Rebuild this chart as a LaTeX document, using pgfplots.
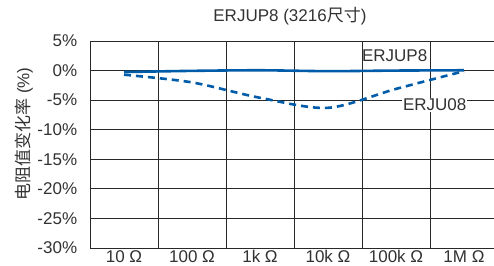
\documentclass[border=0pt]{standalone}
\usepackage{pgfplots}
\pgfplotsset{compat=1.18}
\usepackage{fontspec}
\setmainfont{Liberation Sans}
\newfontfamily\cjk{Noto Sans CJK SC}
\definecolor{pblue}{RGB}{0,92,169}
\definecolor{gridc}{RGB}{40,40,40}
\definecolor{txt}{RGB}{50,50,50}
\begin{document}
\fontsize{17bp}{20bp}\selectfont
\begin{tikzpicture}
\useasboundingbox (-90bp,-18bp) rectangle (404bp,248bp);
\begin{axis}[
  at={(0,0)}, anchor=south west,
  scale only axis, width=408bp, height=207bp,
  xmin=-0.5, xmax=5.5, ymin=-30, ymax=5,
  xtick={0,1,2,3,4,5},
  xticklabels={10 Ω,100 Ω,1k Ω,10k Ω,100k Ω,1M Ω},
  minor xtick={0.5,1.5,2.5,3.5,4.5},
  xminorgrids, ymajorgrids,
  ytick={-30,-25,-20,-15,-10,-5,0,5},
  yticklabels={-30\%,-25\%,-20\%,-15\%,-10\%,-5\%,0\%,5\%},
  major tick length=0pt, minor tick length=0pt,
  axis line style={gridc, line width=0.9bp},
  grid style={gridc, line width=0.9bp},
  minor grid style={gridc, line width=0.9bp},
  yticklabel style={xshift=-7bp, text=txt, font=\fontsize{17bp}{20bp}\selectfont},
  xticklabel style={anchor=base, yshift=-14.5bp, inner sep=1bp, text=txt, font=\fontsize{17bp}{20bp}\selectfont},
  title={ERJUP8 (3216{\cjk 尺寸})},
  title style={at={(rel axis cs:0.49,1)}, anchor=base, yshift=14bp, text=txt, font=\fontsize{17bp}{20bp}\selectfont},
]
\addplot[pblue, line width=2.6bp, smooth] coordinates {
  (0,-0.25) (1,-0.05) (2,0.05) (3,-0.1) (4,0) (5,0.05)
};
\addplot[pblue, line width=2.6bp, smooth, dash pattern=on 7bp off 5bp] coordinates {
  (0,-0.7) (1,-2.0) (2,-4.6) (3,-6.3) (4,-3.1) (5,-0.1)
};
\node[font=\fontsize{17bp}{20bp}\selectfont, text=txt] at (axis cs:3.98,2.6) {ERJUP8};
\node[font=\fontsize{17bp}{20bp}\selectfont, text=txt, fill=white, inner sep=1bp] at (axis cs:4.57,-5.82) {ERJU08};
\end{axis}
\node[rotate=90, text=txt, font=\fontsize{17bp}{20bp}\selectfont] at (-66bp,114bp) {{\cjk 电阻值变化率} (\%)};
\end{tikzpicture}
\end{document}
